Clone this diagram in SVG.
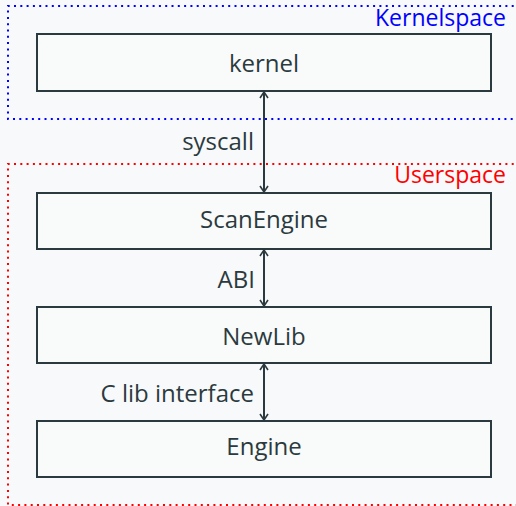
<svg xmlns="http://www.w3.org/2000/svg" width="516" height="506" viewBox="0 0 516 506">
  <style>
    .box { fill: #f9fafa; stroke: #2b3a3e; stroke-width: 2; }
    .lbl { font-family: "Open Sans", "DejaVu Sans", sans-serif; font-size: 24px; fill: #2b3a3e; }
    .region-lbl { font-family: "Open Sans", "DejaVu Sans", sans-serif; font-size: 23px; text-anchor: end; }
    .edge { stroke: #2b3a3e; stroke-width: 2; fill: none; }
    .region { fill: none; stroke-width: 2; stroke-dasharray: 2 4.3; }
  </style>
  <defs>
    <marker id="head" viewBox="0 0 10 10" refX="9" refY="5" markerWidth="10" markerHeight="10" markerUnits="userSpaceOnUse" orient="auto-start-reverse">
      <path d="M3,1 L9,5 L3,9" fill="none" stroke="#2b3a3e" stroke-width="1.6"/>
    </marker>
  </defs>
  <rect width="516" height="506" fill="#f8f9fa"/>

  <!-- address-space regions -->
  <g id="kernelspace">
    <path class="region" stroke="#0000ff" d="M520,6 H8 V119 H520"/>
    <text class="region-lbl" x="506" y="26" fill="#0000ff">Kernelspace</text>
  </g>
  <g id="userspace">
    <path class="region" stroke="#ff0000" d="M520,164 H8 V505 H520"/>
    <text class="region-lbl" x="506" y="183" fill="#ff0000">Userspace</text>
  </g>

  <!-- layers -->
  <g id="kernel">
    <rect class="box" x="37" y="34" width="454" height="57"/>
    <text class="lbl" x="264" y="72" text-anchor="middle">kernel</text>
  </g>
  <g id="scanengine">
    <rect class="box" x="37" y="193" width="454" height="56"/>
    <text class="lbl" x="264" y="228" text-anchor="middle">ScanEngine</text>
  </g>
  <g id="newlib">
    <rect class="box" x="37" y="307" width="454" height="56"/>
    <text class="lbl" x="264" y="345" text-anchor="middle">NewLib</text>
  </g>
  <g id="engine">
    <rect class="box" x="37" y="421" width="454" height="56"/>
    <text class="lbl" x="264" y="455" text-anchor="middle">Engine</text>
  </g>

  <!-- interfaces between layers -->
  <g id="connectors">
    <line class="edge" x1="264" y1="92" x2="264" y2="192" marker-start="url(#head)" marker-end="url(#head)"/>
    <text class="lbl" x="254" y="150" text-anchor="end">syscall</text>
    <line class="edge" x1="264" y1="250" x2="264" y2="306" marker-start="url(#head)" marker-end="url(#head)"/>
    <text class="lbl" x="255" y="288" text-anchor="end">ABI</text>
    <line class="edge" x1="264" y1="364" x2="264" y2="420" marker-start="url(#head)" marker-end="url(#head)"/>
    <text class="lbl" x="254" y="402" text-anchor="end">C lib interface</text>
  </g>
</svg>
